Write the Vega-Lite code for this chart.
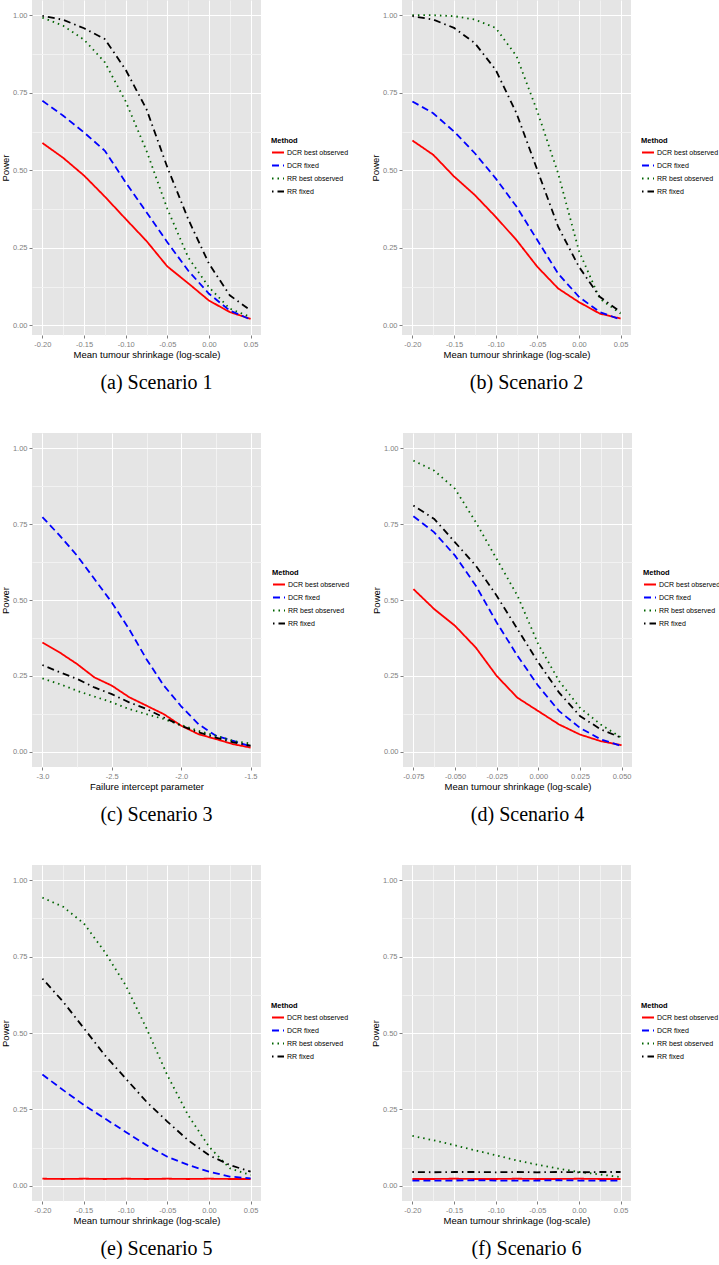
{
  "$schema": "https://vega.github.io/schema/vega-lite/v6.json",
  "padding": 0,
  "background": "white",
  "spacing": 40,
  "resolve": {"scale": {"color": "independent", "strokeDash": "independent"}, "legend": {"color": "independent", "strokeDash": "independent"}},
  "config": {
    "view": {"fill": "#E5E5E5", "stroke": null},
    "axis": {
      "domain": false,
      "labelColor": "#7F7F7F",
      "labelFontSize": 7.5,
      "labelFont": "Liberation Sans",
      "titleFont": "Liberation Sans",
      "titleFontSize": 9.5,
      "titleFontWeight": "normal",
      "titleColor": "#000000",
      "tickSize": 3,
      "labelPadding": 2,
      "titlePadding": 2,
      "labelOverlap": false,
      "labelFlush": false
    },
    "legend": {
      "orient": "none",
      "titleFont": "Liberation Sans",
      "titleFontSize": 7.5,
      "titleFontWeight": "bold",
      "titleColor": "#000000",
      "labelFont": "Liberation Sans",
      "labelFontSize": 7,
      "labelColor": "#000000",
      "symbolType": "stroke",
      "symbolSize": 144,
      "symbolStrokeWidth": 1.8,
      "rowPadding": 2,
      "labelOffset": 2,
      "titlePadding": 1
    },
    "title": {
      "orient": "bottom",
      "frame": "group",
      "anchor": "middle",
      "font": "Liberation Serif",
      "fontSize": 20,
      "fontWeight": "normal",
      "color": "#000000",
      "offset": 14
    },
    "line": {"strokeWidth": 1.8, "clip": true}
  },
  "data": {"values": [
    {"s":1,"m":"DCR best observed","x":-0.2,"p":0.588},{"s":1,"m":"DCR best observed","x":-0.175,"p":0.540},{"s":1,"m":"DCR best observed","x":-0.15,"p":0.483},{"s":1,"m":"DCR best observed","x":-0.125,"p":0.415},{"s":1,"m":"DCR best observed","x":-0.1,"p":0.343},{"s":1,"m":"DCR best observed","x":-0.075,"p":0.272},{"s":1,"m":"DCR best observed","x":-0.05,"p":0.190},{"s":1,"m":"DCR best observed","x":-0.025,"p":0.136},{"s":1,"m":"DCR best observed","x":0,"p":0.080},{"s":1,"m":"DCR best observed","x":0.025,"p":0.043},{"s":1,"m":"DCR best observed","x":0.05,"p":0.021},
    {"s":1,"m":"DCR fixed","x":-0.2,"p":0.724},{"s":1,"m":"DCR fixed","x":-0.175,"p":0.676},{"s":1,"m":"DCR fixed","x":-0.15,"p":0.622},{"s":1,"m":"DCR fixed","x":-0.125,"p":0.563},{"s":1,"m":"DCR fixed","x":-0.1,"p":0.461},{"s":1,"m":"DCR fixed","x":-0.075,"p":0.365},{"s":1,"m":"DCR fixed","x":-0.05,"p":0.268},{"s":1,"m":"DCR fixed","x":-0.025,"p":0.177},{"s":1,"m":"DCR fixed","x":0,"p":0.102},{"s":1,"m":"DCR fixed","x":0.025,"p":0.048},{"s":1,"m":"DCR fixed","x":0.05,"p":0.019},
    {"s":1,"m":"RR best observed","x":-0.2,"p":0.992},{"s":1,"m":"RR best observed","x":-0.175,"p":0.966},{"s":1,"m":"RR best observed","x":-0.15,"p":0.921},{"s":1,"m":"RR best observed","x":-0.125,"p":0.848},{"s":1,"m":"RR best observed","x":-0.1,"p":0.722},{"s":1,"m":"RR best observed","x":-0.075,"p":0.563},{"s":1,"m":"RR best observed","x":-0.05,"p":0.376},{"s":1,"m":"RR best observed","x":-0.025,"p":0.220},{"s":1,"m":"RR best observed","x":0,"p":0.123},{"s":1,"m":"RR best observed","x":0.025,"p":0.054},{"s":1,"m":"RR best observed","x":0.05,"p":0.027},
    {"s":1,"m":"RR fixed","x":-0.2,"p":0.998},{"s":1,"m":"RR fixed","x":-0.175,"p":0.985},{"s":1,"m":"RR fixed","x":-0.15,"p":0.958},{"s":1,"m":"RR fixed","x":-0.125,"p":0.923},{"s":1,"m":"RR fixed","x":-0.1,"p":0.824},{"s":1,"m":"RR fixed","x":-0.075,"p":0.697},{"s":1,"m":"RR fixed","x":-0.05,"p":0.510},{"s":1,"m":"RR fixed","x":-0.025,"p":0.343},{"s":1,"m":"RR fixed","x":0,"p":0.199},{"s":1,"m":"RR fixed","x":0.025,"p":0.097},{"s":1,"m":"RR fixed","x":0.05,"p":0.048},

    {"s":2,"m":"DCR best observed","x":-0.2,"p":0.596},{"s":2,"m":"DCR best observed","x":-0.175,"p":0.550},{"s":2,"m":"DCR best observed","x":-0.15,"p":0.480},{"s":2,"m":"DCR best observed","x":-0.125,"p":0.420},{"s":2,"m":"DCR best observed","x":-0.1,"p":0.350},{"s":2,"m":"DCR best observed","x":-0.075,"p":0.275},{"s":2,"m":"DCR best observed","x":-0.05,"p":0.189},{"s":2,"m":"DCR best observed","x":-0.025,"p":0.119},{"s":2,"m":"DCR best observed","x":0,"p":0.075},{"s":2,"m":"DCR best observed","x":0.025,"p":0.038},{"s":2,"m":"DCR best observed","x":0.05,"p":0.022},
    {"s":2,"m":"DCR fixed","x":-0.2,"p":0.722},{"s":2,"m":"DCR fixed","x":-0.175,"p":0.684},{"s":2,"m":"DCR fixed","x":-0.15,"p":0.625},{"s":2,"m":"DCR fixed","x":-0.125,"p":0.555},{"s":2,"m":"DCR fixed","x":-0.1,"p":0.474},{"s":2,"m":"DCR fixed","x":-0.075,"p":0.383},{"s":2,"m":"DCR fixed","x":-0.05,"p":0.275},{"s":2,"m":"DCR fixed","x":-0.025,"p":0.167},{"s":2,"m":"DCR fixed","x":0,"p":0.092},{"s":2,"m":"DCR fixed","x":0.025,"p":0.043},{"s":2,"m":"DCR fixed","x":0.05,"p":0.019},
    {"s":2,"m":"RR best observed","x":-0.2,"p":1.0},{"s":2,"m":"RR best observed","x":-0.175,"p":1.0},{"s":2,"m":"RR best observed","x":-0.15,"p":0.997},{"s":2,"m":"RR best observed","x":-0.125,"p":0.986},{"s":2,"m":"RR best observed","x":-0.1,"p":0.959},{"s":2,"m":"RR best observed","x":-0.075,"p":0.868},{"s":2,"m":"RR best observed","x":-0.05,"p":0.690},{"s":2,"m":"RR best observed","x":-0.025,"p":0.490},{"s":2,"m":"RR best observed","x":0,"p":0.240},{"s":2,"m":"RR best observed","x":0.025,"p":0.086},{"s":2,"m":"RR best observed","x":0.05,"p":0.038},
    {"s":2,"m":"RR fixed","x":-0.2,"p":0.997},{"s":2,"m":"RR fixed","x":-0.175,"p":0.986},{"s":2,"m":"RR fixed","x":-0.15,"p":0.959},{"s":2,"m":"RR fixed","x":-0.125,"p":0.910},{"s":2,"m":"RR fixed","x":-0.1,"p":0.824},{"s":2,"m":"RR fixed","x":-0.075,"p":0.684},{"s":2,"m":"RR fixed","x":-0.05,"p":0.501},{"s":2,"m":"RR fixed","x":-0.025,"p":0.318},{"s":2,"m":"RR fixed","x":0,"p":0.189},{"s":2,"m":"RR fixed","x":0.025,"p":0.092},{"s":2,"m":"RR fixed","x":0.05,"p":0.043},

    {"s":3,"m":"DCR best observed","x":-3.0,"p":0.360},{"s":3,"m":"DCR best observed","x":-2.875,"p":0.327},{"s":3,"m":"DCR best observed","x":-2.75,"p":0.289},{"s":3,"m":"DCR best observed","x":-2.625,"p":0.245},{"s":3,"m":"DCR best observed","x":-2.5,"p":0.218},{"s":3,"m":"DCR best observed","x":-2.375,"p":0.180},{"s":3,"m":"DCR best observed","x":-2.25,"p":0.152},{"s":3,"m":"DCR best observed","x":-2.125,"p":0.124},{"s":3,"m":"DCR best observed","x":-2.0,"p":0.086},{"s":3,"m":"DCR best observed","x":-1.875,"p":0.058},{"s":3,"m":"DCR best observed","x":-1.75,"p":0.042},{"s":3,"m":"DCR best observed","x":-1.625,"p":0.025},{"s":3,"m":"DCR best observed","x":-1.5,"p":0.014},
    {"s":3,"m":"DCR fixed","x":-3.0,"p":0.773},{"s":3,"m":"DCR fixed","x":-2.875,"p":0.712},{"s":3,"m":"DCR fixed","x":-2.75,"p":0.646},{"s":3,"m":"DCR fixed","x":-2.625,"p":0.569},{"s":3,"m":"DCR fixed","x":-2.5,"p":0.492},{"s":3,"m":"DCR fixed","x":-2.375,"p":0.404},{"s":3,"m":"DCR fixed","x":-2.25,"p":0.305},{"s":3,"m":"DCR fixed","x":-2.125,"p":0.218},{"s":3,"m":"DCR fixed","x":-2.0,"p":0.150},{"s":3,"m":"DCR fixed","x":-1.875,"p":0.091},{"s":3,"m":"DCR fixed","x":-1.75,"p":0.053},{"s":3,"m":"DCR fixed","x":-1.625,"p":0.036},{"s":3,"m":"DCR fixed","x":-1.5,"p":0.018},
    {"s":3,"m":"RR best observed","x":-3.0,"p":0.242},{"s":3,"m":"RR best observed","x":-2.875,"p":0.223},{"s":3,"m":"RR best observed","x":-2.75,"p":0.201},{"s":3,"m":"RR best observed","x":-2.625,"p":0.182},{"s":3,"m":"RR best observed","x":-2.5,"p":0.163},{"s":3,"m":"RR best observed","x":-2.375,"p":0.141},{"s":3,"m":"RR best observed","x":-2.25,"p":0.124},{"s":3,"m":"RR best observed","x":-2.125,"p":0.108},{"s":3,"m":"RR best observed","x":-2.0,"p":0.088},{"s":3,"m":"RR best observed","x":-1.875,"p":0.069},{"s":3,"m":"RR best observed","x":-1.75,"p":0.053},{"s":3,"m":"RR best observed","x":-1.625,"p":0.036},{"s":3,"m":"RR best observed","x":-1.5,"p":0.027},
    {"s":3,"m":"RR fixed","x":-3.0,"p":0.286},{"s":3,"m":"RR fixed","x":-2.875,"p":0.262},{"s":3,"m":"RR fixed","x":-2.75,"p":0.240},{"s":3,"m":"RR fixed","x":-2.625,"p":0.212},{"s":3,"m":"RR fixed","x":-2.5,"p":0.190},{"s":3,"m":"RR fixed","x":-2.375,"p":0.163},{"s":3,"m":"RR fixed","x":-2.25,"p":0.141},{"s":3,"m":"RR fixed","x":-2.125,"p":0.113},{"s":3,"m":"RR fixed","x":-2.0,"p":0.086},{"s":3,"m":"RR fixed","x":-1.875,"p":0.064},{"s":3,"m":"RR fixed","x":-1.75,"p":0.047},{"s":3,"m":"RR fixed","x":-1.625,"p":0.031},{"s":3,"m":"RR fixed","x":-1.5,"p":0.020},

    {"s":4,"m":"DCR best observed","x":-0.075,"p":0.536},{"s":4,"m":"DCR best observed","x":-0.0625,"p":0.470},{"s":4,"m":"DCR best observed","x":-0.05,"p":0.415},{"s":4,"m":"DCR best observed","x":-0.0375,"p":0.343},{"s":4,"m":"DCR best observed","x":-0.025,"p":0.250},{"s":4,"m":"DCR best observed","x":-0.0125,"p":0.178},{"s":4,"m":"DCR best observed","x":0,"p":0.134},{"s":4,"m":"DCR best observed","x":0.0125,"p":0.090},{"s":4,"m":"DCR best observed","x":0.025,"p":0.057},{"s":4,"m":"DCR best observed","x":0.0375,"p":0.035},{"s":4,"m":"DCR best observed","x":0.05,"p":0.022},
    {"s":4,"m":"DCR fixed","x":-0.075,"p":0.776},{"s":4,"m":"DCR fixed","x":-0.0625,"p":0.723},{"s":4,"m":"DCR fixed","x":-0.05,"p":0.646},{"s":4,"m":"DCR fixed","x":-0.0375,"p":0.547},{"s":4,"m":"DCR fixed","x":-0.025,"p":0.426},{"s":4,"m":"DCR fixed","x":-0.0125,"p":0.316},{"s":4,"m":"DCR fixed","x":0,"p":0.217},{"s":4,"m":"DCR fixed","x":0.0125,"p":0.134},{"s":4,"m":"DCR fixed","x":0.025,"p":0.079},{"s":4,"m":"DCR fixed","x":0.0375,"p":0.041},{"s":4,"m":"DCR fixed","x":0.05,"p":0.019},
    {"s":4,"m":"RR best observed","x":-0.075,"p":0.959},{"s":4,"m":"RR best observed","x":-0.0625,"p":0.926},{"s":4,"m":"RR best observed","x":-0.05,"p":0.866},{"s":4,"m":"RR best observed","x":-0.0375,"p":0.756},{"s":4,"m":"RR best observed","x":-0.025,"p":0.635},{"s":4,"m":"RR best observed","x":-0.0125,"p":0.514},{"s":4,"m":"RR best observed","x":0,"p":0.354},{"s":4,"m":"RR best observed","x":0.0125,"p":0.233},{"s":4,"m":"RR best observed","x":0.025,"p":0.145},{"s":4,"m":"RR best observed","x":0.0375,"p":0.090},{"s":4,"m":"RR best observed","x":0.05,"p":0.046},
    {"s":4,"m":"RR fixed","x":-0.075,"p":0.811},{"s":4,"m":"RR fixed","x":-0.0625,"p":0.767},{"s":4,"m":"RR fixed","x":-0.05,"p":0.690},{"s":4,"m":"RR fixed","x":-0.0375,"p":0.613},{"s":4,"m":"RR fixed","x":-0.025,"p":0.514},{"s":4,"m":"RR fixed","x":-0.0125,"p":0.404},{"s":4,"m":"RR fixed","x":0,"p":0.294},{"s":4,"m":"RR fixed","x":0.0125,"p":0.195},{"s":4,"m":"RR fixed","x":0.025,"p":0.118},{"s":4,"m":"RR fixed","x":0.0375,"p":0.074},{"s":4,"m":"RR fixed","x":0.05,"p":0.046},

    {"s":5,"m":"DCR best observed","x":-0.2,"p":0.023},{"s":5,"m":"DCR best observed","x":-0.175,"p":0.022},{"s":5,"m":"DCR best observed","x":-0.15,"p":0.023},{"s":5,"m":"DCR best observed","x":-0.125,"p":0.022},{"s":5,"m":"DCR best observed","x":-0.1,"p":0.023},{"s":5,"m":"DCR best observed","x":-0.075,"p":0.022},{"s":5,"m":"DCR best observed","x":-0.05,"p":0.023},{"s":5,"m":"DCR best observed","x":-0.025,"p":0.022},{"s":5,"m":"DCR best observed","x":0,"p":0.023},{"s":5,"m":"DCR best observed","x":0.025,"p":0.022},{"s":5,"m":"DCR best observed","x":0.05,"p":0.022},
    {"s":5,"m":"DCR fixed","x":-0.2,"p":0.364},{"s":5,"m":"DCR fixed","x":-0.175,"p":0.313},{"s":5,"m":"DCR fixed","x":-0.15,"p":0.264},{"s":5,"m":"DCR fixed","x":-0.125,"p":0.220},{"s":5,"m":"DCR fixed","x":-0.1,"p":0.176},{"s":5,"m":"DCR fixed","x":-0.075,"p":0.133},{"s":5,"m":"DCR fixed","x":-0.05,"p":0.095},{"s":5,"m":"DCR fixed","x":-0.025,"p":0.068},{"s":5,"m":"DCR fixed","x":0,"p":0.046},{"s":5,"m":"DCR fixed","x":0.025,"p":0.030},{"s":5,"m":"DCR fixed","x":0.05,"p":0.024},
    {"s":5,"m":"RR best observed","x":-0.2,"p":0.943},{"s":5,"m":"RR best observed","x":-0.175,"p":0.913},{"s":5,"m":"RR best observed","x":-0.15,"p":0.858},{"s":5,"m":"RR best observed","x":-0.125,"p":0.765},{"s":5,"m":"RR best observed","x":-0.1,"p":0.656},{"s":5,"m":"RR best observed","x":-0.075,"p":0.515},{"s":5,"m":"RR best observed","x":-0.05,"p":0.362},{"s":5,"m":"RR best observed","x":-0.025,"p":0.231},{"s":5,"m":"RR best observed","x":0,"p":0.128},{"s":5,"m":"RR best observed","x":0.025,"p":0.057},{"s":5,"m":"RR best observed","x":0.05,"p":0.035},
    {"s":5,"m":"RR fixed","x":-0.2,"p":0.678},{"s":5,"m":"RR fixed","x":-0.175,"p":0.602},{"s":5,"m":"RR fixed","x":-0.15,"p":0.515},{"s":5,"m":"RR fixed","x":-0.125,"p":0.427},{"s":5,"m":"RR fixed","x":-0.1,"p":0.351},{"s":5,"m":"RR fixed","x":-0.075,"p":0.275},{"s":5,"m":"RR fixed","x":-0.05,"p":0.210},{"s":5,"m":"RR fixed","x":-0.025,"p":0.149},{"s":5,"m":"RR fixed","x":0,"p":0.100},{"s":5,"m":"RR fixed","x":0.025,"p":0.068},{"s":5,"m":"RR fixed","x":0.05,"p":0.046},

    {"s":6,"m":"DCR best observed","x":-0.2,"p":0.022},{"s":6,"m":"DCR best observed","x":-0.175,"p":0.022},{"s":6,"m":"DCR best observed","x":-0.15,"p":0.023},{"s":6,"m":"DCR best observed","x":-0.125,"p":0.022},{"s":6,"m":"DCR best observed","x":-0.1,"p":0.022},{"s":6,"m":"DCR best observed","x":-0.075,"p":0.023},{"s":6,"m":"DCR best observed","x":-0.05,"p":0.022},{"s":6,"m":"DCR best observed","x":-0.025,"p":0.022},{"s":6,"m":"DCR best observed","x":0,"p":0.023},{"s":6,"m":"DCR best observed","x":0.025,"p":0.022},{"s":6,"m":"DCR best observed","x":0.05,"p":0.022},
    {"s":6,"m":"DCR fixed","x":-0.2,"p":0.017},{"s":6,"m":"DCR fixed","x":-0.175,"p":0.017},{"s":6,"m":"DCR fixed","x":-0.15,"p":0.017},{"s":6,"m":"DCR fixed","x":-0.125,"p":0.018},{"s":6,"m":"DCR fixed","x":-0.1,"p":0.017},{"s":6,"m":"DCR fixed","x":-0.075,"p":0.017},{"s":6,"m":"DCR fixed","x":-0.05,"p":0.017},{"s":6,"m":"DCR fixed","x":-0.025,"p":0.018},{"s":6,"m":"DCR fixed","x":0,"p":0.017},{"s":6,"m":"DCR fixed","x":0.025,"p":0.017},{"s":6,"m":"DCR fixed","x":0.05,"p":0.017},
    {"s":6,"m":"RR best observed","x":-0.2,"p":0.163},{"s":6,"m":"RR best observed","x":-0.175,"p":0.149},{"s":6,"m":"RR best observed","x":-0.15,"p":0.133},{"s":6,"m":"RR best observed","x":-0.125,"p":0.116},{"s":6,"m":"RR best observed","x":-0.1,"p":0.100},{"s":6,"m":"RR best observed","x":-0.075,"p":0.083},{"s":6,"m":"RR best observed","x":-0.05,"p":0.069},{"s":6,"m":"RR best observed","x":-0.025,"p":0.056},{"s":6,"m":"RR best observed","x":0,"p":0.045},{"s":6,"m":"RR best observed","x":0.025,"p":0.037},{"s":6,"m":"RR best observed","x":0.05,"p":0.028},
    {"s":6,"m":"RR fixed","x":-0.2,"p":0.045},{"s":6,"m":"RR fixed","x":-0.175,"p":0.044},{"s":6,"m":"RR fixed","x":-0.15,"p":0.045},{"s":6,"m":"RR fixed","x":-0.125,"p":0.045},{"s":6,"m":"RR fixed","x":-0.1,"p":0.044},{"s":6,"m":"RR fixed","x":-0.075,"p":0.045},{"s":6,"m":"RR fixed","x":-0.05,"p":0.044},{"s":6,"m":"RR fixed","x":-0.025,"p":0.045},{"s":6,"m":"RR fixed","x":0,"p":0.044},{"s":6,"m":"RR fixed","x":0.025,"p":0.045},{"s":6,"m":"RR fixed","x":0.05,"p":0.045}
  ]},
  "vconcat": [
    {"spacing": 21,
     "resolve": {"scale": {"color": "independent", "strokeDash": "independent"}, "legend": {"color": "independent", "strokeDash": "independent"}},
     "hconcat": [
      {
        "width": 229, "height": 335,
        "title": {"text": "(a) Scenario 1", "dx": 10},
        "transform": [{"filter": "datum.s == 1"}],
        "mark": {"type": "line"},
        "encoding": {
          "x": {"field": "x", "type": "quantitative", "scale": {"domain": [-0.2125, 0.0625], "nice": false, "zero": false},
            "axis": {"title": "Mean tumour shrinkage (log-scale)", "values": [-0.2,-0.175,-0.15,-0.125,-0.1,-0.075,-0.05,-0.025,0,0.025,0.05],
              "labelExpr": "abs(datum.value*20-round(datum.value*20))<0.001 ? replace(format(datum.value,'.2f'),'\u2212','-') : ''",
              "gridColor": {"condition": {"test": "abs(datum.value*20-round(datum.value*20))<0.001", "value": "#FFFFFF"}, "value": "#F2F2F2"},
              "tickColor": {"condition": {"test": "abs(datum.value*20-round(datum.value*20))<0.001", "value": "#7F7F7F"}, "value": "transparent"}}},
          "y": {"field": "p", "type": "quantitative", "scale": {"domain": [-0.031, 1.049], "nice": false, "zero": false},
            "axis": {"title": "Power", "values": [0,0.125,0.25,0.375,0.5,0.625,0.75,0.875,1],
              "labelExpr": "abs(datum.value*4-round(datum.value*4))<0.001 ? format(datum.value,'.2f') : ''",
              "gridColor": {"condition": {"test": "abs(datum.value*4-round(datum.value*4))<0.001", "value": "#FFFFFF"}, "value": "#F2F2F2"},
              "tickColor": {"condition": {"test": "abs(datum.value*4-round(datum.value*4))<0.001", "value": "#7F7F7F"}, "value": "transparent"}}},
          "color": {"field": "m", "type": "nominal", "scale": {"domain": ["DCR best observed","DCR fixed","RR best observed","RR fixed"], "range": ["#FF0000","#0000FF","#006400","#000000"]},
            "legend": {"title": "Method", "orient": "none", "legendX": 239, "legendY": 137}},
          "strokeDash": {"field": "m", "type": "nominal", "scale": {"domain": ["DCR best observed","DCR fixed","RR best observed","RR fixed"], "range": [[1,0],[7,4],[1.5,4],[1.5,4,7,4]]},
            "legend": {"title": "Method", "orient": "none", "legendX": 239, "legendY": 137}}
        }
      },
      {
        "width": 229, "height": 335,
        "title": {"text": "(b) Scenario 2", "dx": 10},
        "transform": [{"filter": "datum.s == 2"}],
        "mark": {"type": "line"},
        "encoding": {
          "x": {"field": "x", "type": "quantitative", "scale": {"domain": [-0.2125, 0.0625], "nice": false, "zero": false},
            "axis": {"title": "Mean tumour shrinkage (log-scale)", "values": [-0.2,-0.175,-0.15,-0.125,-0.1,-0.075,-0.05,-0.025,0,0.025,0.05],
              "labelExpr": "abs(datum.value*20-round(datum.value*20))<0.001 ? replace(format(datum.value,'.2f'),'\u2212','-') : ''",
              "gridColor": {"condition": {"test": "abs(datum.value*20-round(datum.value*20))<0.001", "value": "#FFFFFF"}, "value": "#F2F2F2"},
              "tickColor": {"condition": {"test": "abs(datum.value*20-round(datum.value*20))<0.001", "value": "#7F7F7F"}, "value": "transparent"}}},
          "y": {"field": "p", "type": "quantitative", "scale": {"domain": [-0.031, 1.049], "nice": false, "zero": false},
            "axis": {"title": "Power", "values": [0,0.125,0.25,0.375,0.5,0.625,0.75,0.875,1],
              "labelExpr": "abs(datum.value*4-round(datum.value*4))<0.001 ? format(datum.value,'.2f') : ''",
              "gridColor": {"condition": {"test": "abs(datum.value*4-round(datum.value*4))<0.001", "value": "#FFFFFF"}, "value": "#F2F2F2"},
              "tickColor": {"condition": {"test": "abs(datum.value*4-round(datum.value*4))<0.001", "value": "#7F7F7F"}, "value": "transparent"}}},
          "color": {"field": "m", "type": "nominal", "scale": {"domain": ["DCR best observed","DCR fixed","RR best observed","RR fixed"], "range": ["#FF0000","#0000FF","#006400","#000000"]},
            "legend": {"title": "Method", "orient": "none", "legendX": 239, "legendY": 137}},
          "strokeDash": {"field": "m", "type": "nominal", "scale": {"domain": ["DCR best observed","DCR fixed","RR best observed","RR fixed"], "range": [[1,0],[7,4],[1.5,4],[1.5,4,7,4]]},
            "legend": {"title": "Method", "orient": "none", "legendX": 239, "legendY": 137}}
        }
      }
    ]},
    {"spacing": 21,
     "resolve": {"scale": {"color": "independent", "strokeDash": "independent"}, "legend": {"color": "independent", "strokeDash": "independent"}},
     "hconcat": [
      {
        "width": 229, "height": 334,
        "title": {"text": "(c) Scenario 3", "dx": 10},
        "transform": [{"filter": "datum.s == 3"}],
        "mark": {"type": "line"},
        "encoding": {
          "x": {"field": "x", "type": "quantitative", "scale": {"domain": [-3.075, -1.425], "nice": false, "zero": false},
            "axis": {"title": "Failure intercept parameter", "values": [-3,-2.75,-2.5,-2.25,-2,-1.75,-1.5],
              "labelExpr": "abs(datum.value*2-round(datum.value*2))<0.001 ? replace(format(datum.value,'.1f'),'\u2212','-') : ''",
              "gridColor": {"condition": {"test": "abs(datum.value*2-round(datum.value*2))<0.001", "value": "#FFFFFF"}, "value": "#F2F2F2"},
              "tickColor": {"condition": {"test": "abs(datum.value*2-round(datum.value*2))<0.001", "value": "#7F7F7F"}, "value": "transparent"}}},
          "y": {"field": "p", "type": "quantitative", "scale": {"domain": [-0.05, 1.05], "nice": false, "zero": false},
            "axis": {"title": "Power", "values": [0,0.125,0.25,0.375,0.5,0.625,0.75,0.875,1],
              "labelExpr": "abs(datum.value*4-round(datum.value*4))<0.001 ? format(datum.value,'.2f') : ''",
              "gridColor": {"condition": {"test": "abs(datum.value*4-round(datum.value*4))<0.001", "value": "#FFFFFF"}, "value": "#F2F2F2"},
              "tickColor": {"condition": {"test": "abs(datum.value*4-round(datum.value*4))<0.001", "value": "#7F7F7F"}, "value": "transparent"}}},
          "color": {"field": "m", "type": "nominal", "scale": {"domain": ["DCR best observed","DCR fixed","RR best observed","RR fixed"], "range": ["#FF0000","#0000FF","#006400","#000000"]},
            "legend": {"title": "Method", "orient": "none", "legendX": 240, "legendY": 136}},
          "strokeDash": {"field": "m", "type": "nominal", "scale": {"domain": ["DCR best observed","DCR fixed","RR best observed","RR fixed"], "range": [[1,0],[7,4],[1.5,4],[1.5,4,7,4]]},
            "legend": {"title": "Method", "orient": "none", "legendX": 240, "legendY": 136}}
        }
      },
      {
        "width": 229, "height": 334,
        "title": {"text": "(d) Scenario 4", "dx": 10},
        "transform": [{"filter": "datum.s == 4"}],
        "mark": {"type": "line"},
        "encoding": {
          "x": {"field": "x", "type": "quantitative", "scale": {"domain": [-0.08125, 0.05625], "nice": false, "zero": false},
            "axis": {"title": "Mean tumour shrinkage (log-scale)", "values": [-0.075,-0.0625,-0.05,-0.0375,-0.025,-0.0125,0,0.0125,0.025,0.0375,0.05],
              "labelExpr": "abs(datum.value*40-round(datum.value*40))<0.001 ? replace(format(datum.value,'.3f'),'\u2212','-') : ''",
              "gridColor": {"condition": {"test": "abs(datum.value*40-round(datum.value*40))<0.001", "value": "#FFFFFF"}, "value": "#F2F2F2"},
              "tickColor": {"condition": {"test": "abs(datum.value*40-round(datum.value*40))<0.001", "value": "#7F7F7F"}, "value": "transparent"}}},
          "y": {"field": "p", "type": "quantitative", "scale": {"domain": [-0.05, 1.05], "nice": false, "zero": false},
            "axis": {"title": "Power", "values": [0,0.125,0.25,0.375,0.5,0.625,0.75,0.875,1],
              "labelExpr": "abs(datum.value*4-round(datum.value*4))<0.001 ? format(datum.value,'.2f') : ''",
              "gridColor": {"condition": {"test": "abs(datum.value*4-round(datum.value*4))<0.001", "value": "#FFFFFF"}, "value": "#F2F2F2"},
              "tickColor": {"condition": {"test": "abs(datum.value*4-round(datum.value*4))<0.001", "value": "#7F7F7F"}, "value": "transparent"}}},
          "color": {"field": "m", "type": "nominal", "scale": {"domain": ["DCR best observed","DCR fixed","RR best observed","RR fixed"], "range": ["#FF0000","#0000FF","#006400","#000000"]},
            "legend": {"title": "Method", "orient": "none", "legendX": 240, "legendY": 136}},
          "strokeDash": {"field": "m", "type": "nominal", "scale": {"domain": ["DCR best observed","DCR fixed","RR best observed","RR fixed"], "range": [[1,0],[7,4],[1.5,4],[1.5,4,7,4]]},
            "legend": {"title": "Method", "orient": "none", "legendX": 240, "legendY": 136}}
        }
      }
    ]},
    {"spacing": 21,
     "resolve": {"scale": {"color": "independent", "strokeDash": "independent"}, "legend": {"color": "independent", "strokeDash": "independent"}},
     "hconcat": [
      {
        "width": 229, "height": 336,
        "title": {"text": "(e) Scenario 5", "dx": 10},
        "transform": [{"filter": "datum.s == 5"}],
        "mark": {"type": "line"},
        "encoding": {
          "x": {"field": "x", "type": "quantitative", "scale": {"domain": [-0.2125, 0.0625], "nice": false, "zero": false},
            "axis": {"title": "Mean tumour shrinkage (log-scale)", "values": [-0.2,-0.175,-0.15,-0.125,-0.1,-0.075,-0.05,-0.025,0,0.025,0.05],
              "labelExpr": "abs(datum.value*20-round(datum.value*20))<0.001 ? replace(format(datum.value,'.2f'),'\u2212','-') : ''",
              "gridColor": {"condition": {"test": "abs(datum.value*20-round(datum.value*20))<0.001", "value": "#FFFFFF"}, "value": "#F2F2F2"},
              "tickColor": {"condition": {"test": "abs(datum.value*20-round(datum.value*20))<0.001", "value": "#7F7F7F"}, "value": "transparent"}}},
          "y": {"field": "p", "type": "quantitative", "scale": {"domain": [-0.05, 1.05], "nice": false, "zero": false},
            "axis": {"title": "Power", "values": [0,0.125,0.25,0.375,0.5,0.625,0.75,0.875,1],
              "labelExpr": "abs(datum.value*4-round(datum.value*4))<0.001 ? format(datum.value,'.2f') : ''",
              "gridColor": {"condition": {"test": "abs(datum.value*4-round(datum.value*4))<0.001", "value": "#FFFFFF"}, "value": "#F2F2F2"},
              "tickColor": {"condition": {"test": "abs(datum.value*4-round(datum.value*4))<0.001", "value": "#7F7F7F"}, "value": "transparent"}}},
          "color": {"field": "m", "type": "nominal", "scale": {"domain": ["DCR best observed","DCR fixed","RR best observed","RR fixed"], "range": ["#FF0000","#0000FF","#006400","#000000"]},
            "legend": {"title": "Method", "orient": "none", "legendX": 239, "legendY": 137}},
          "strokeDash": {"field": "m", "type": "nominal", "scale": {"domain": ["DCR best observed","DCR fixed","RR best observed","RR fixed"], "range": [[1,0],[7,4],[1.5,4],[1.5,4,7,4]]},
            "legend": {"title": "Method", "orient": "none", "legendX": 239, "legendY": 137}}
        }
      },
      {
        "width": 229, "height": 336,
        "title": {"text": "(f) Scenario 6", "dx": 10},
        "transform": [{"filter": "datum.s == 6"}],
        "mark": {"type": "line"},
        "encoding": {
          "x": {"field": "x", "type": "quantitative", "scale": {"domain": [-0.2125, 0.0625], "nice": false, "zero": false},
            "axis": {"title": "Mean tumour shrinkage (log-scale)", "values": [-0.2,-0.175,-0.15,-0.125,-0.1,-0.075,-0.05,-0.025,0,0.025,0.05],
              "labelExpr": "abs(datum.value*20-round(datum.value*20))<0.001 ? replace(format(datum.value,'.2f'),'\u2212','-') : ''",
              "gridColor": {"condition": {"test": "abs(datum.value*20-round(datum.value*20))<0.001", "value": "#FFFFFF"}, "value": "#F2F2F2"},
              "tickColor": {"condition": {"test": "abs(datum.value*20-round(datum.value*20))<0.001", "value": "#7F7F7F"}, "value": "transparent"}}},
          "y": {"field": "p", "type": "quantitative", "scale": {"domain": [-0.05, 1.05], "nice": false, "zero": false},
            "axis": {"title": "Power", "values": [0,0.125,0.25,0.375,0.5,0.625,0.75,0.875,1],
              "labelExpr": "abs(datum.value*4-round(datum.value*4))<0.001 ? format(datum.value,'.2f') : ''",
              "gridColor": {"condition": {"test": "abs(datum.value*4-round(datum.value*4))<0.001", "value": "#FFFFFF"}, "value": "#F2F2F2"},
              "tickColor": {"condition": {"test": "abs(datum.value*4-round(datum.value*4))<0.001", "value": "#7F7F7F"}, "value": "transparent"}}},
          "color": {"field": "m", "type": "nominal", "scale": {"domain": ["DCR best observed","DCR fixed","RR best observed","RR fixed"], "range": ["#FF0000","#0000FF","#006400","#000000"]},
            "legend": {"title": "Method", "orient": "none", "legendX": 239, "legendY": 137}},
          "strokeDash": {"field": "m", "type": "nominal", "scale": {"domain": ["DCR best observed","DCR fixed","RR best observed","RR fixed"], "range": [[1,0],[7,4],[1.5,4],[1.5,4,7,4]]},
            "legend": {"title": "Method", "orient": "none", "legendX": 239, "legendY": 137}}
        }
      }
    ]}
  ]
}
